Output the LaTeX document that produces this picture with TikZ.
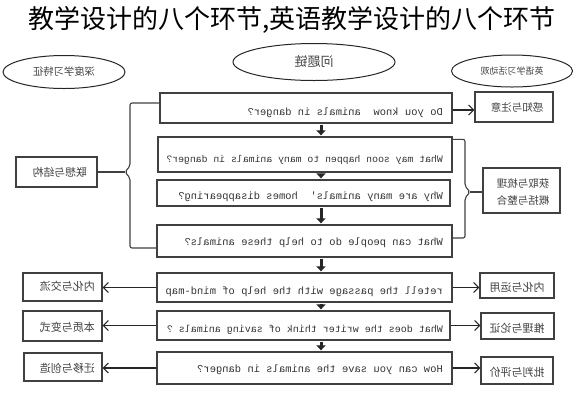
\documentclass[tikz,border=0pt]{standalone}
\usepackage{fontspec}
\setmonofont{Liberation Mono}
\newfontfamily\cjk{Noto Sans CJK SC}
\usetikzlibrary{arrows.meta,shapes.geometric,calc}
\begin{document}
\begin{tikzpicture}[x=1pt,y=-1pt,
  mbox/.style={draw=black!75, line width=1.3pt, rectangle, inner sep=0},
  sbox/.style={draw=black!75, line width=1.2pt, rectangle, inner sep=0},
  oval/.style={draw=black!85, line width=1pt, ellipse, inner sep=0},
  en/.style={font=\ttfamily\fontsize{10.5}{12}\selectfont, text=black!80, inner sep=0},
  zh/.style={font=\cjk\fontsize{10.5}{12}\selectfont, text=black!75, inner sep=0},
  down/.style={line width=3pt, -{Triangle[width=9pt,length=5pt]}, black!85, shorten <=1pt, shorten >=1pt},
  side/.style={line width=1.1pt, -{Straight Barb[length=5pt,width=10pt]}, black!85},
  brace/.style={line width=1.1pt, black!75, rounded corners=2pt}]
\useasboundingbox (0,0) rectangle (583,400);

% title
\node[font=\cjk\fontsize{26}{30}\selectfont, inner sep=0] (title) at (292,20) {教学设计的八个环节,英语教学设计的八个环节};

% ellipses
\node[oval, zh, font=\cjk\fontsize{10.3}{12}\selectfont, minimum width=122, minimum height=33] (e1) at (64,72) {\reflectbox{深度学习特征}};
\node[oval, zh, font=\cjk\fontsize{13}{15}\selectfont, minimum width=162, minimum height=37] (e2) at (314,62) {\reflectbox{问题链}};
\node[oval, zh, font=\cjk\fontsize{9}{11}\selectfont, minimum width=121, minimum height=32] (e3) at (512,71) {\reflectbox{英语学习活动观}};

% main boxes
\node[mbox, minimum width=292, minimum height=30] (b1) at (306,108) {};
\node[mbox, minimum width=294, minimum height=35] (b2) at (305,154.5) {};
\node[mbox, minimum width=293, minimum height=26] (b3) at (303.5,193) {};
\node[mbox, minimum width=295, minimum height=32] (b4) at (304.5,241) {};
\node[mbox, minimum width=295, minimum height=29] (b5) at (304.5,287.5) {};
\node[mbox, minimum width=293, minimum height=29] (b6) at (303.5,325.5) {};
\node[mbox, minimum width=295, minimum height=32] (b7) at (304.5,368) {};

\node[en, anchor=east] (t1) at (443,113) {\reflectbox{Do you know\ \ animals in danger?}};
\node[en, font=\ttfamily\fontsize{9.8}{12}\selectfont, anchor=east] (t2) at (443,160) {\reflectbox{What may soon happen to many animals in danger?}};
\node[en, anchor=east] (t3) at (443,197) {\reflectbox{Why are many animals'\ \ homes disappearing?}};
\node[en, anchor=east] (t4) at (443,243) {\reflectbox{What can people do to help these animals?}};
\node[en, anchor=east] (t5) at (443,292) {\reflectbox{retell the passage with the help of mind-map}};
\node[en, font=\ttfamily\fontsize{10}{12}\selectfont, anchor=east] (t6) at (443,330) {\reflectbox{What does the writer think of saving animals ?}};
\node[en, anchor=east] (t7) at (443,370) {\reflectbox{How can you save the animals in danger?}};

% right boxes
\node[sbox, minimum width=78, minimum height=30] (r1) at (514,107) {};
\node[zh] (rt1) at (517,107) {\reflectbox{感知与注意}};
\node[sbox, minimum width=77, minimum height=45] (r2) at (521.5,190.5) {};
\node[zh] (rt2a) at (523,183) {\reflectbox{获取与梳理}};
\node[zh] (rt2b) at (523,201) {\reflectbox{概括与整合}};
\node[sbox, minimum width=74, minimum height=25] (r3) at (517,285.5) {};
\node[zh, font=\cjk\fontsize{11}{12}\selectfont] (rt3) at (517,287) {\reflectbox{内化与运用}};
\node[sbox, minimum width=73, minimum height=26] (r4) at (517.5,326) {};
\node[zh, font=\cjk\fontsize{11}{12}\selectfont] (rt4) at (517,328) {\reflectbox{推理与论证}};
\node[sbox, minimum width=72, minimum height=27] (r5) at (517,370.5) {};
\node[zh, font=\cjk\fontsize{11}{12}\selectfont] (rt5) at (517,372) {\reflectbox{批判与评价}};

% left boxes
\node[sbox, minimum width=81, minimum height=30] (l0) at (56.5,172) {};
\node[zh, font=\cjk\fontsize{10.8}{12}\selectfont, anchor=east] (lt0) at (87,172) {\reflectbox{联想与结构}};
\node[sbox, minimum width=79, minimum height=28] (l1) at (62.5,287) {};
\node[zh, font=\cjk\fontsize{11}{12}\selectfont, anchor=east] (lt1) at (95,286) {\reflectbox{内化与交流}};
\node[sbox, minimum width=79, minimum height=30] (l2) at (62.5,326) {};
\node[zh, font=\cjk\fontsize{11}{12}\selectfont, anchor=east] (lt2) at (95,327) {\reflectbox{本质与变式}};
\node[sbox, minimum width=78, minimum height=28] (l3) at (63,367) {};
\node[zh, font=\cjk\fontsize{11}{12}\selectfont, anchor=east] (lt3) at (95,368) {\reflectbox{迁移与创造}};

% down arrows
\coordinate (ax) at (321,0);
\draw[down] (b1.south -| ax) -- (b2.north -| ax);
\draw[down] (b2.south -| ax) -- (b3.north -| ax);
\draw[down] (b3.south -| ax) -- (b4.north -| ax);
\draw[down] (b4.south -| ax) -- (b5.north -| ax);
\draw[down] (b5.south -| ax) -- (b6.north -| ax);
\draw[down] (b6.south -| ax) -- (b7.north -| ax);

% side arrows
\draw[side] ([yshift=-2pt]b1.east) -- ([yshift=-2pt]b1.east -| r1.west);
\draw[side] (b5.east) -- (b5.east -| r3.west);
\draw[side] (b6.east) -- (b6.east -| r4.west);
\draw[side] (b7.east) -- (b7.east -| r5.west);
\draw[side] (b5.west) -- (b5.west -| l1.east);
\draw[side] (b6.west) -- (b6.west -| l2.east);
\draw[side] (b7.west) -- (b7.west -| l3.east);

% braces
\coordinate (lb1) at (130,166);
\coordinate (lbtip) at (125,172);
\coordinate (lb2) at (130,178);
\draw[brace] ([yshift=5pt]b1.west) -| (lb1) -- (lbtip) -- (lb2) |- ([yshift=-7pt]b4.west);
\draw[brace] (lbtip) -- (lbtip -| l0.east);

\coordinate (rb1) at (465,186);
\coordinate (rbtip) at (470,192);
\coordinate (rb2) at (465,198);
\draw[brace] ([yshift=-3pt]b2.north east) -| (rb1) -- (rbtip) -- (rb2) |- ([yshift=3pt]b4.east);
\draw[brace] (rbtip) -- (rbtip -| r2.west);
\end{tikzpicture}
\end{document}
